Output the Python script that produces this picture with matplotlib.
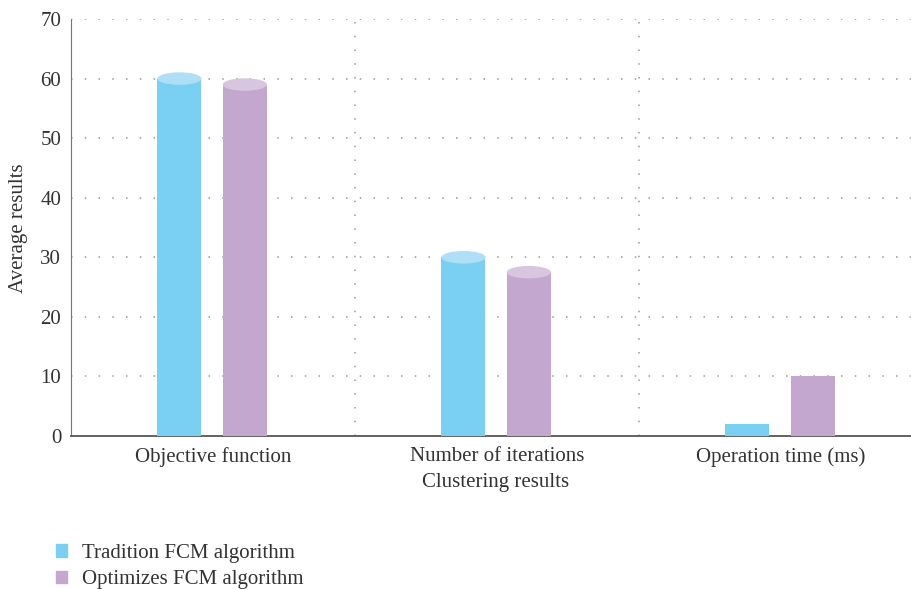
import matplotlib
matplotlib.use("Agg")
import matplotlib.pyplot as plt
from matplotlib.patches import Ellipse, Rectangle
import numpy as np

categories = ["Objective function", "Number of iterations", "Operation time (ms)"]
series_names = ["Tradition FCM algorithm", "Optimizes FCM algorithm"]
traditional = [60, 30, 2]
optimized = [59, 27.5, 10]
yticks = [0, 10, 20, 30, 40, 50, 60, 70]

colors = ["#7AD0F2", "#C3A7CE"]
cap_colors = ["#AEDFF7", "#D8C6E0"]
show_cap = [True, True, False]

plt.rcParams['font.family'] = ['Liberation Serif', 'DejaVu Serif']
fs = 15

fig = plt.figure(figsize=(9.12, 5.89), dpi=100)
ax = fig.add_axes([71/912, (589-436)/589, 852/912, 417/589])

x = np.arange(len(categories))
width = 0.155
offsets = [-0.118, 0.112]
cap_h = 2.1
for si, vals in enumerate([traditional, optimized]):
    bars = ax.bar(x + offsets[si], vals, width, color=colors[si], label=series_names[si], zorder=3)
    for ci, (b, v) in enumerate(zip(bars, vals)):
        if show_cap[ci]:
            e = Ellipse((b.get_x() + b.get_width()/2, v), b.get_width(), cap_h,
                        facecolor=cap_colors[si], edgecolor='none', zorder=4)
            ax.add_patch(e)

ax.set_xlim(-0.5, 2.5)
ax.set_ylim(0, 70)
ax.set_yticks(yticks)
ax.set_xticks(x)
ax.set_xticklabels(categories)
ax.tick_params(axis='both', length=0, labelsize=fs, colors='#333333')
ax.tick_params(axis='y', pad=7)
ax.tick_params(axis='x', pad=8)

for yv in yticks[1:]:
    ax.axhline(yv, color='#999999', linestyle=(0, (1, 8)), linewidth=1.1, zorder=1)
for xv in [0.5, 1.5]:
    ax.axvline(xv, color='#999999', linestyle=(0, (1, 8)), linewidth=1.1, zorder=1)

for s in ['top', 'right']:
    ax.spines[s].set_visible(False)
ax.spines['left'].set_color('#777777')
ax.spines['bottom'].set_color('#555555')
ax.spines['bottom'].set_linewidth(1.3)

fig.text(19/912, 1 - 228/589, "Average results", rotation=90, ha='center', va='center',
         fontsize=fs, color='#333333')
fig.text(496/912, 1 - 483/589, "Clustering results", ha='center', va='center',
         fontsize=fs, color='#333333')

handles = [Rectangle((0, 0), 1, 1, color=c) for c in colors]
fig.legend(handles, series_names, loc='lower left', bbox_to_anchor=(37/912, -19/589),
           frameon=False, fontsize=fs, handlelength=0.55, handleheight=0.55,
           labelspacing=0.35, handletextpad=0.72, labelcolor='#333333')

fig.savefig("out.png", dpi=100)
